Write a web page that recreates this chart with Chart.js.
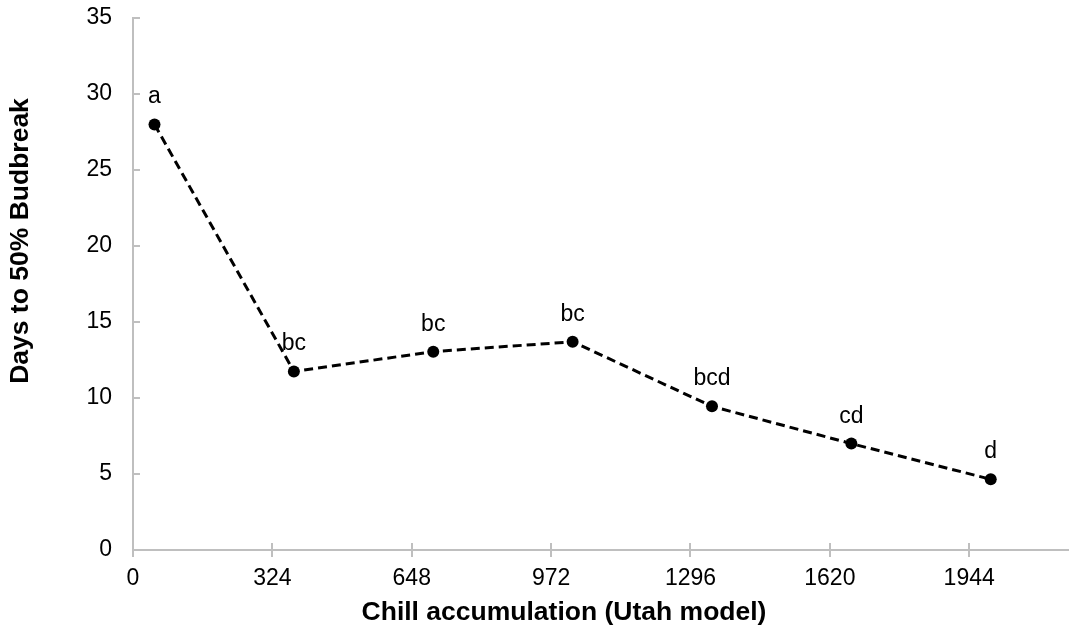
<!DOCTYPE html>
<html>
<head>
<meta charset="utf-8">
<script src="https://cdn.jsdelivr.net/npm/chart.js@4/dist/chart.umd.min.js"></script>
<style>
  html, body { margin: 0; padding: 0; background: #fff; }
  canvas { display: block; }
</style>
</head>
<body>
<canvas id="chill-chart" width="1069" height="630"></canvas>
<script>
// chill accumulation (Utah model) vs days to 50% budbreak
const chillUnits = [50, 374, 698, 1022, 1346, 1670, 1994];
const daysToBudbreak = [28.0, 11.75, 13.05, 13.7, 9.45, 7.0, 4.65];
const letters = ['a', 'bc', 'bc', 'bc', 'bcd', 'cd', 'd'];
const xTickValues = [0, 324, 648, 972, 1296, 1620, 1944];
const yTickValues = [0, 5, 10, 15, 20, 25, 30, 35];

const xTitle = 'Chill accumulation (Utah model)';
const yTitle = 'Days to 50% Budbreak';

const axisGray = '#bfbfbf';
const fontFamily = '"Liberation Sans", Arial, sans-serif';

// tick marks: y ticks point into the plot, x ticks cross the axis
const tickMarks = {
  id: 'tickMarks',
  afterDraw(chart) {
    const { ctx, chartArea, scales } = chart;
    ctx.save();
    ctx.strokeStyle = axisGray;
    ctx.lineWidth = 2;
    ctx.beginPath();
    yTickValues.forEach((v) => {
      const y = Math.round(scales.y.getPixelForValue(v));
      ctx.moveTo(chartArea.left, y);
      ctx.lineTo(chartArea.left + 7, y);
    });
    xTickValues.forEach((v) => {
      const x = Math.round(scales.x.getPixelForValue(v));
      ctx.moveTo(x, chartArea.bottom - 7);
      ctx.lineTo(x, chartArea.bottom + 7);
    });
    ctx.stroke();
    ctx.restore();
  },
};

// letters above the points
const pointLetters = {
  id: 'pointLetters',
  afterDatasetsDraw(chart) {
    const { ctx } = chart;
    const meta = chart.getDatasetMeta(0);
    ctx.save();
    ctx.fillStyle = '#000';
    ctx.font = '23px ' + fontFamily;
    ctx.textAlign = 'center';
    ctx.textBaseline = 'alphabetic';
    meta.data.forEach((pt, i) => {
      ctx.fillText(letters[i], pt.x, pt.y - 21);
    });
    ctx.restore();
  },
};

// axis titles (sit a little off centre, like the original)
const axisTitles = {
  id: 'axisTitles',
  afterDraw(chart) {
    const { ctx, chartArea } = chart;
    ctx.save();
    ctx.fillStyle = '#000';
    ctx.font = 'bold 26.5px ' + fontFamily;
    ctx.textAlign = 'center';
    ctx.textBaseline = 'alphabetic';
    ctx.fillText(xTitle, chartArea.left + 431, chartArea.bottom + 70);
    ctx.translate(chartArea.left - 105, chartArea.top + 223);
    ctx.rotate(-Math.PI / 2);
    ctx.fillText(yTitle, 0, 0);
    ctx.restore();
  },
};

new Chart(document.getElementById('chill-chart'), {
  type: 'scatter',
  data: {
    datasets: [
      {
        data: chillUnits.map((x, i) => ({ x, y: daysToBudbreak[i] })),
        showLine: true,
        borderColor: '#000',
        borderWidth: 3,
        borderDash: [9, 5],
        pointRadius: 6,
        pointHoverRadius: 6,
        pointBackgroundColor: '#000',
        pointBorderColor: '#000',
        pointBorderWidth: 0,
      },
    ],
  },
  options: {
    responsive: false,
    animation: false,
    events: [],
    layout: { autoPadding: false, padding: { top: 18, right: 0, left: 0, bottom: 0 } },
    plugins: {
      legend: { display: false },
      tooltip: { enabled: false },
    },
    scales: {
      x: {
        type: 'linear',
        min: 0,
        max: 2176,
        afterBuildTicks: (scale) => {
          scale.ticks = xTickValues.map((value) => ({ value }));
        },
        afterFit: (scale) => {
          scale.height = 80;
          scale.paddingLeft = 0;
          scale.paddingRight = 0;
        },
        ticks: {
          color: '#000',
          font: { family: fontFamily, size: 23 },
          padding: 15,
          maxRotation: 0,
          callback: (value) => String(value),
        },
        grid: { display: true, drawOnChartArea: false, drawTicks: false },
        border: { color: axisGray, width: 2 },
      },
      y: {
        min: 0,
        max: 35,
        afterBuildTicks: (scale) => {
          scale.ticks = yTickValues.map((value) => ({ value }));
        },
        afterFit: (scale) => {
          scale.width = 133;
          scale.paddingTop = 0;
          scale.paddingBottom = 0;
        },
        ticks: {
          color: '#000',
          font: { family: fontFamily, size: 23 },
          padding: 21,
          callback: (value) => String(value),
        },
        grid: { display: true, drawOnChartArea: false, drawTicks: false },
        border: { color: axisGray, width: 2 },
      },
    },
  },
  plugins: [tickMarks, pointLetters, axisTitles],
});
</script>
</body>
</html>
